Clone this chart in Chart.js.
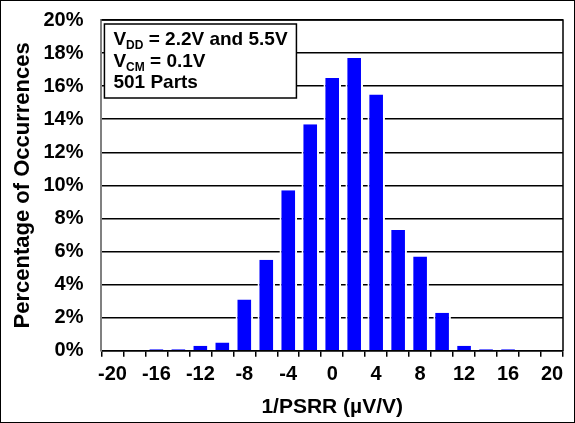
<!DOCTYPE html>
<html>
<head>
<meta charset="utf-8">
<script src="https://cdn.jsdelivr.net/npm/chart.js@4"></script>
<style>
  html, body { margin: 0; padding: 0; background: #fff; }
  #wrap { width: 575px; height: 423px; position: relative; }
</style>
</head>
<body>
<div id="wrap"><canvas id="psrrChart" width="575" height="423"></canvas></div>
<script>
// categorias do histograma (uV/V) e porcentagem de ocorrencias
var binLabels = ['-20','-18','-16','-14','-12','-10','-8','-6','-4','-2','0','2','4','6','8','10','12','14','16','18','20'];
var occurrences = [0, 0, 0.1, 0.1, 0.3, 0.5, 3.1, 5.5, 9.7, 13.7, 16.5, 17.7, 15.5, 7.3, 5.7, 2.3, 0.3, 0.1, 0.1, 0, 0];
var yMin = 0, yMax = 20, yStep = 2;
var noteLines = [
  { main: 'V', sub: 'DD', rest: ' = 2.2V and 5.5V' },
  { main: 'V', sub: 'CM', rest: ' = 0.1V' },
  { main: '501 Parts', sub: '', rest: '' }
];

var FONT = '"Liberation Sans", Arial, sans-serif';

// moldura do grafico, borda da area de plotagem e caixa de texto
var framePlugin = {
  id: 'frame',
  afterDraw: function (chart) {
    var ctx = chart.ctx;
    var a = chart.chartArea;
    ctx.save();
    // borda externa
    ctx.strokeStyle = '#000';
    ctx.lineWidth = 1;
    ctx.strokeRect(0.5, 0.5, chart.width - 1, chart.height - 1);
    // topo e lado direito da area
    ctx.lineWidth = 1.5;
    ctx.beginPath();
    ctx.moveTo(a.left, a.top);
    ctx.lineTo(a.right, a.top);
    ctx.lineTo(a.right, a.bottom);
    ctx.stroke();

    // caixa de condicoes
    var bx = a.left + 3, by = a.top + 4, bw = 192, bh = 74;
    ctx.fillStyle = '#fff';
    ctx.fillRect(bx, by, bw, bh);
    ctx.lineWidth = 1.5;
    ctx.strokeRect(bx, by, bw, bh);
    ctx.fillStyle = '#000';
    ctx.textBaseline = 'alphabetic';
    var x0 = bx + 9;
    noteLines.forEach(function (ln, i) {
      var yb = by + 21 + i * 21.5;
      ctx.font = 'bold 19px ' + FONT;
      ctx.fillText(ln.main, x0, yb);
      var x = x0 + ctx.measureText(ln.main).width;
      if (ln.sub) {
        ctx.font = 'bold 12px ' + FONT;
        ctx.fillText(ln.sub, x, yb + 4);
        x += ctx.measureText(ln.sub).width;
      }
      if (ln.rest) {
        ctx.font = 'bold 19px ' + FONT;
        ctx.fillText(ln.rest, x, yb);
      }
    });
    ctx.restore();
  }
};

var grafico = new Chart(document.getElementById('psrrChart'), {
  type: 'bar',
  data: {
    labels: binLabels,
    datasets: [{
      data: occurrences,
      backgroundColor: '#0000ff',
      borderColor: '#ffffff',
      borderWidth: { left: 2, right: 2, top: 0, bottom: 0 },
      borderSkipped: false,
      barPercentage: 0.8,
      categoryPercentage: 1.0
    }]
  },
  options: {
    responsive: false,
    animation: false,
    devicePixelRatio: 1,
    layout: { padding: { left: 10, right: 12, top: 20, bottom: 3 } },
    plugins: {
      legend: { display: false },
      tooltip: { enabled: false }
    },
    scales: {
      x: {
        type: 'category',
        offset: true,
        grid: {
          offset: true,
          drawOnChartArea: false,
          drawTicks: true,
          tickLength: 6,
          color: '#000',
          lineWidth: 1.5
        },
        border: { display: true, color: '#000', width: 1.5 },
        ticks: {
          autoSkip: false,
          maxRotation: 0,
          color: '#000',
          padding: 6,
          font: { family: FONT, size: 20, weight: 'bold' },
          callback: function (v, i) { return i % 2 === 0 ? binLabels[i] : ''; }
        },
        title: {
          display: true,
          text: '1/PSRR (µV/V)',
          color: '#000',
          padding: { top: 2, bottom: 0 },
          font: { family: FONT, size: 21, weight: 'bold' }
        }
      },
      y: {
        min: yMin,
        max: yMax,
        grid: {
          color: '#000',
          lineWidth: 1.5,
          drawTicks: true,
          tickLength: 13,
          tickColor: 'rgba(0,0,0,0)'
        },
        border: { display: true, color: '#808080', width: 2 },
        ticks: {
          stepSize: yStep,
          color: '#000',
          padding: 5,
          font: { family: FONT, size: 20, weight: 'bold' },
          callback: function (v) { return v + '%'; }
        },
        title: {
          display: true,
          text: 'Percentage of Occurrences',
          color: '#000',
          padding: { top: 0, bottom: 2 },
          font: { family: FONT, size: 22, weight: 'bold' }
        }
      }
    }
  },
  plugins: [framePlugin]
});
</script>
</body>
</html>
